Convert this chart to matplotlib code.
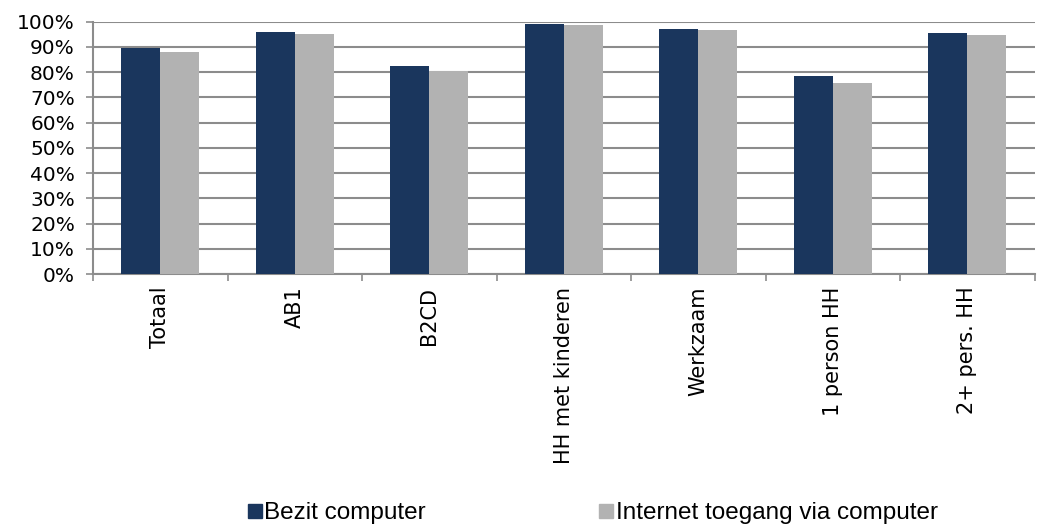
import matplotlib
matplotlib.use('Agg')
import matplotlib.pyplot as plt
import numpy as np
from matplotlib.ticker import PercentFormatter, FixedLocator
from matplotlib.lines import Line2D

# data
categories = ['Totaal', 'AB1', 'B2CD', 'HH met kinderen', 'Werkzaam', '1 person HH', '2+ pers. HH']
bezit_computer = [89.5, 96.0, 82.4, 99.1, 97.2, 78.5, 95.6]
internet_toegang = [87.9, 95.1, 80.3, 98.8, 96.7, 75.7, 94.6]
series_labels = ['Bezit computer', 'Internet toegang via computer']

colors = {
    'dark': '#1a365d',
    'light': '#b2b2b2',
    'grid': '#8c8c8c',
}

plt.rcParams['font.family'] = 'DejaVu Sans'

fig = plt.figure(figsize=(10.45, 5.29), dpi=100)
ax = fig.add_axes([0.089, 0.482, 0.901, 0.477])

x = np.arange(len(categories))
w = 0.29
ax.bar(x - w / 2, bezit_computer, width=w, color=colors['dark'], zorder=3)
ax.bar(x + w / 2, internet_toegang, width=w, color=colors['light'], zorder=3)

ax.set_xlim(-0.5, len(categories) - 0.5)
ax.set_ylim(0, 100)
ax.set_yticks(np.arange(0, 101, 10))
ax.yaxis.set_major_formatter(PercentFormatter(decimals=0))
ax.yaxis.grid(True, color=colors['grid'], linewidth=1.5, zorder=0)

# category labels centred, tick marks between categories
ax.xaxis.set_major_locator(FixedLocator(np.arange(-0.5, len(categories), 1.0)))
ax.set_xticklabels([])
ax.set_xticks(x, minor=True)
ax.set_xticklabels(categories, minor=True, rotation=90, fontsize=15)
ax.tick_params(axis='x', which='minor', length=0, pad=9)
ax.tick_params(axis='x', which='major', length=5, width=1.2, color=colors['grid'])
ax.tick_params(axis='y', length=5, width=1.2, color=colors['grid'], labelsize=14.5, pad=8)

for s in ['top', 'right']:
    ax.spines[s].set_visible(False)
ax.spines['left'].set_color(colors['grid'])
ax.spines['left'].set_linewidth(1.5)
ax.spines['bottom'].set_color(colors['grid'])
ax.spines['bottom'].set_linewidth(1.5)

handles = [Line2D([], [], marker='s', linestyle='', markersize=9.5, color=colors['dark']),
           Line2D([], [], marker='s', linestyle='', markersize=9.5, color=colors['light'])]
fig.legend(handles, series_labels, loc='center', bbox_to_anchor=(0.567, 0.030),
           ncol=2, frameon=False, handletextpad=0.1, columnspacing=7.1,
           handlelength=0.6, prop={'family': 'Liberation Sans', 'size': 17.5})

plt.savefig('out.png', dpi=100)
